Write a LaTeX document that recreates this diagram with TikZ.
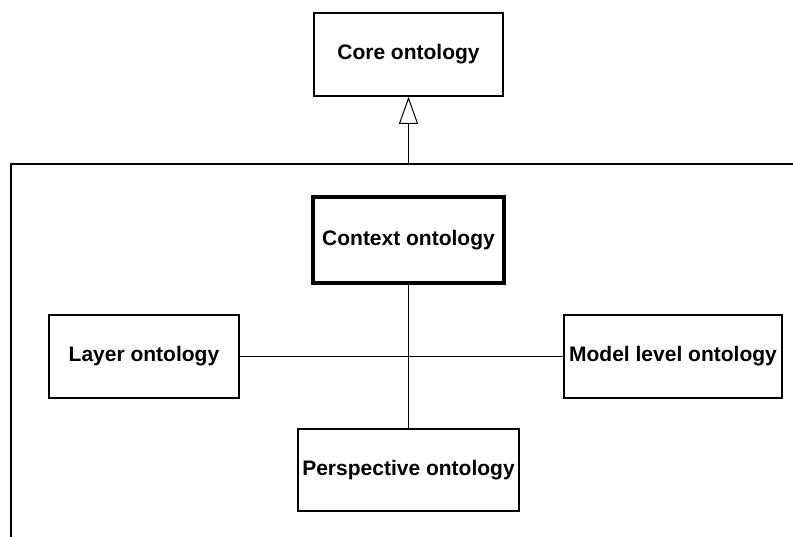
\documentclass[tikz,border=0pt]{standalone}
\usepackage{fontspec}
\setmainfont{Liberation Sans}
\usetikzlibrary{arrows.meta}
\begin{document}
\begin{tikzpicture}[x=1pt,y=-1pt,
  ontobox/.style={draw, line width=1.6pt, inner sep=0pt, align=center,
    font=\fontsize{21}{25}\selectfont\bfseries},
  keybox/.style={ontobox, line width=4pt},
  link/.style={line width=1pt},
  frameline/.style={line width=2pt},
  inherit/.style={line width=1pt, -{Triangle[open, length=27pt, width=19pt]}}]
  \useasboundingbox (0,0) rectangle (793,536);
  % enclosing package frame, open towards the right and bottom
  \coordinate (frameTR) at (796,164);
  \coordinate (frameTL) at (11,164);
  \coordinate (frameBL) at (11,539);
  \coordinate (frametop) at (408.5,164);
  \draw[frameline] (frameTR) -- (frameTL) -- (frameBL);
  % ontologies
  \node[ontobox, minimum width=189pt, minimum height=83pt] (core) at (408.5,54.5) {Core ontology};
  \node[keybox, minimum width=191pt, minimum height=86pt] (context) at (408.5,240) {Context ontology};
  \node[ontobox, minimum width=190pt, minimum height=83pt] (layer) at (144,356.5) {Layer ontology};
  \node[ontobox, minimum width=218pt, minimum height=83pt] (model) at (673,356.5) {Model level ontology};
  \node[ontobox, minimum width=221pt, minimum height=82pt] (persp) at (408.5,470) {Perspective ontology};
  % relations
  \draw[inherit] (frametop) -- (core.south);
  \draw[link] (context.south) -- (persp.north);
  \draw[link] (layer.east) -- (model.west);
\end{tikzpicture}
\end{document}
